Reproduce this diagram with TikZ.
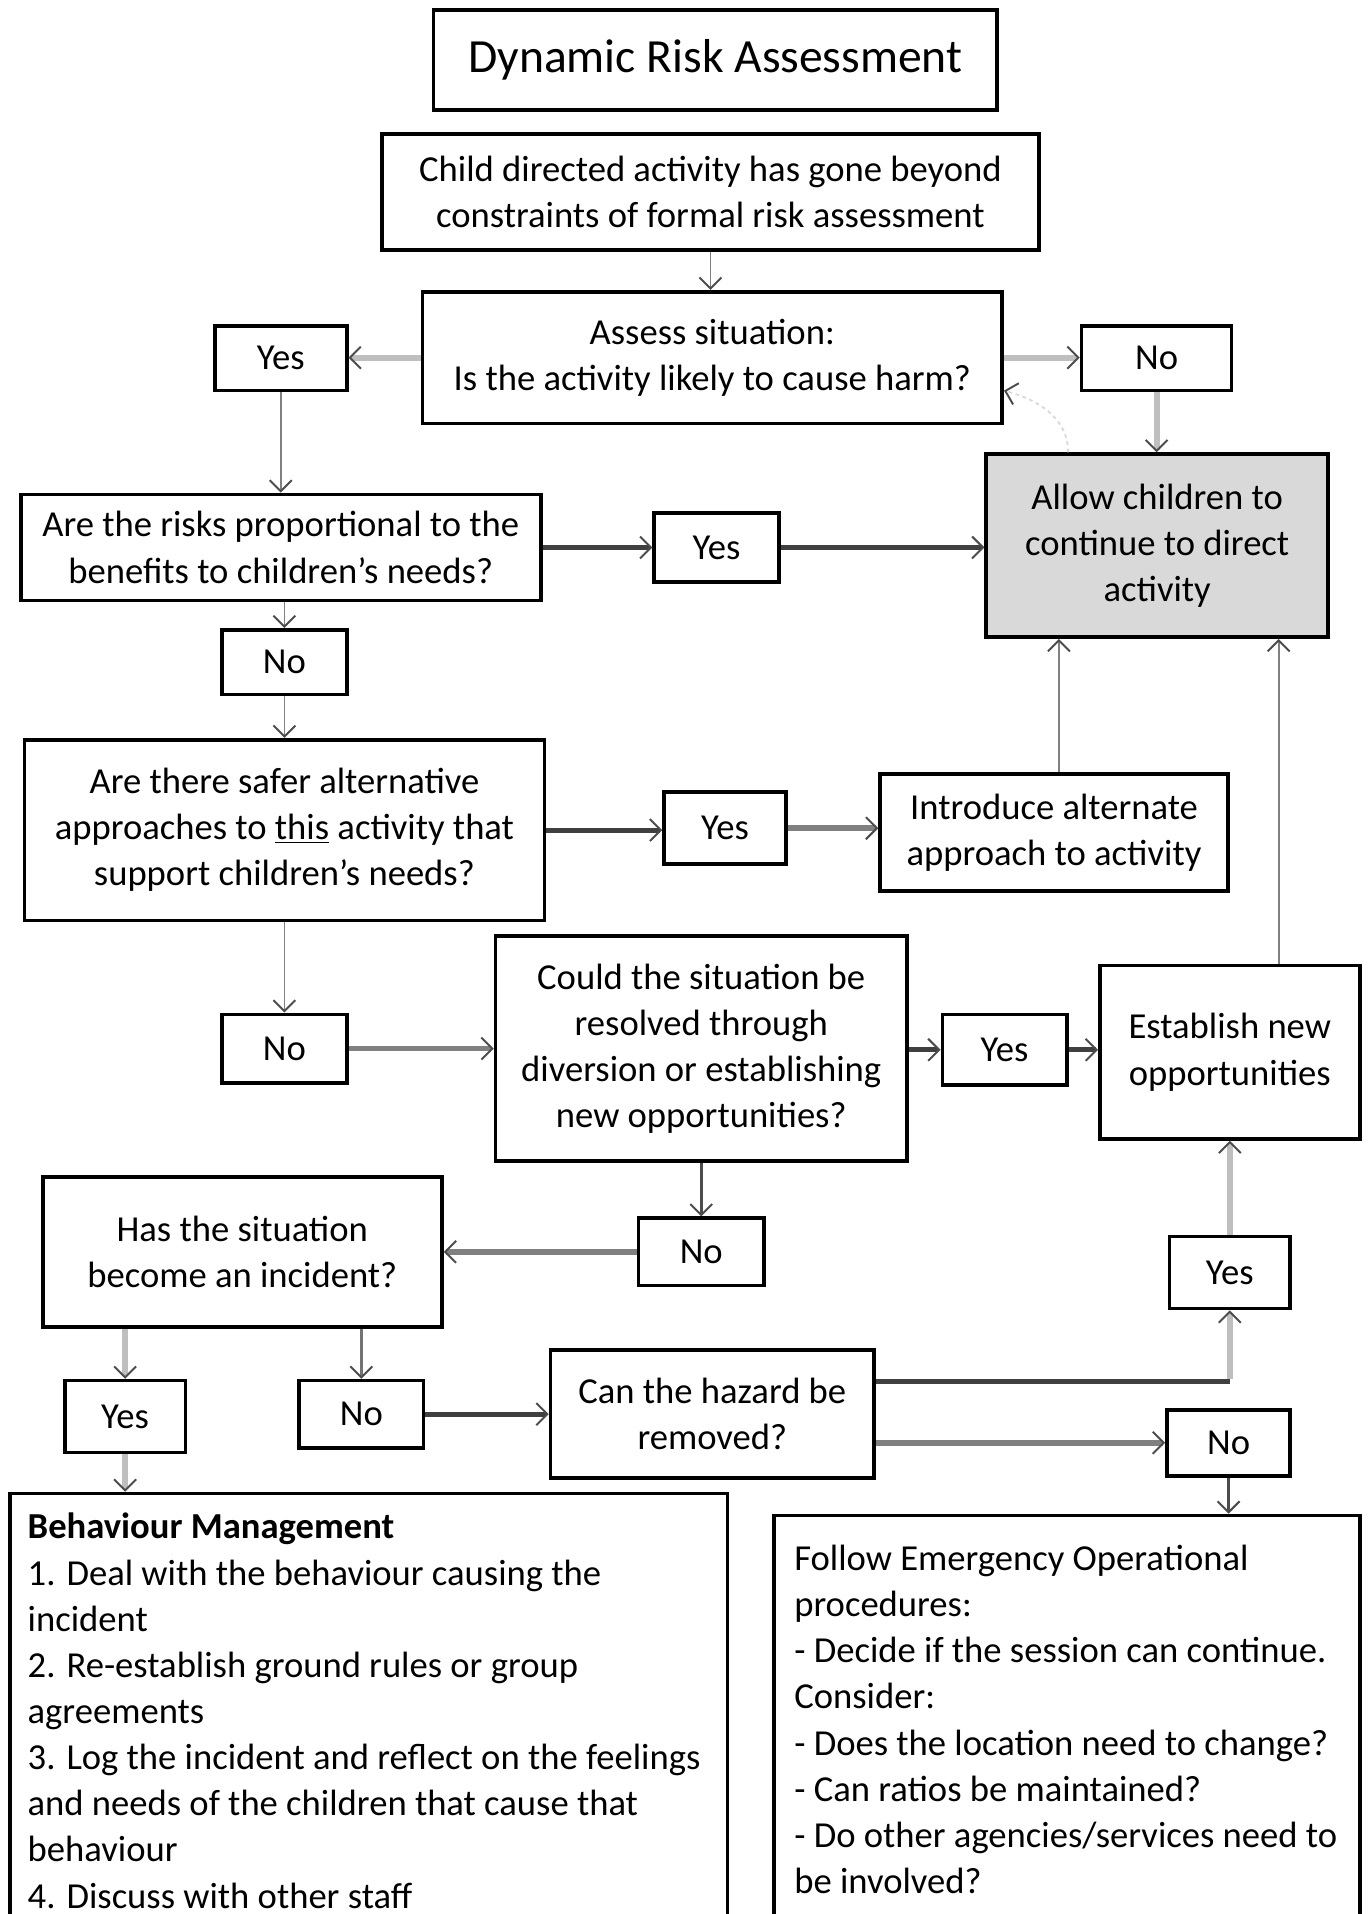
\documentclass[tikz,border=0pt]{standalone}
\usepackage{fontspec}
\setmainfont{Carlito}
\usetikzlibrary{arrows.meta,calc}
\definecolor{Fill}{RGB}{217, 217, 217}
\newcommand\mainsize{\fontsize{30}{37.8}\selectfont}
\newcommand\titlesize{\fontsize{39}{44}\selectfont}
\tikzset{
  box/.style={draw, line width=3pt, align=center, inner sep=0pt, font=\mainsize},
  tip/.style={-{Straight Barb[length=9pt,width=18pt,line width=1.6pt,color=black!70]}},
  thinline/.style={tip, draw=black!50, line width=1.5pt},
  midline/.style={tip, draw=black!70, line width=2.5pt},
  darkline/.style={tip, draw=black!75, line width=4pt},
  greyline/.style={tip, draw=black!50, line width=4.5pt},
  paleline/.style={tip, draw=black!25, line width=5pt},
  listtext/.style={anchor=north west, align=left, inner sep=0pt, font=\mainsize}
}

\begin{document}
\begin{tikzpicture}[x=1pt, y=-1pt]
    %%Background
    \useasboundingbox (0,0) rectangle (1121,1568);

    %% Top of the chart
    \node[box, font=\titlesize, minimum width=462, minimum height=82] (title) at (586,49) {Dynamic Risk Assessment};
    \node[box, minimum width=538, minimum height=95] (child) at (582,157.5)
        {Child directed activity has gone beyond\\constraints of formal risk assessment};
    \node[box, minimum width=475, minimum height=108] (assess) at (583.5,293)
        {Assess situation:\\Is the activity likely to cause harm?};
    \node[box, minimum width=108, minimum height=53] (yesA) at (230,293.5) {Yes};
    \node[box, minimum width=123, minimum height=53] (noA) at (947.5,293.5) {No};
    \node[box, fill=Fill, minimum width=280, minimum height=150] (allow) at (948,447)
        {Allow children to\\continue to direct\\activity};

    %% Proportional risks
    \node[box, minimum width=426, minimum height=87] (risks) at (230,448.5)
        {Are the risks proportional to the\\benefits to children's needs?};
    \node[box, minimum width=102, minimum height=57] (yesB) at (587,448.5) {Yes};
    \node[box, minimum width=102, minimum height=53] (noB) at (233,542.5) {No};

    %% Safer approaches
    \node[box, minimum width=426, minimum height=148] (safer) at (233,680)
        {Are there safer alternative\\approaches to \underline{this} activity that\\support children's needs?};
    \node[box, minimum width=100, minimum height=59] (yesC) at (594,678.5) {Yes};
    \node[box, minimum width=285, minimum height=96] (intro) at (863.5,682)
        {Introduce alternate\\approach to activity};
    \node[box, minimum width=102, minimum height=56] (noC) at (233,859) {No};

    %% Diversion
    \node[box, minimum width=337, minimum height=184] (could) at (574.5,859)
        {Could the situation be\\resolved through\\diversion or establishing\\new opportunities?};
    \node[box, minimum width=102, minimum height=58] (yesD) at (823,860) {Yes};
    \node[box, minimum width=213, minimum height=142] (establish) at (1007.5,862)
        {Establish new\\opportunities};

    %% Incident
    \node[box, minimum width=327, minimum height=123] (has) at (198.5,1025.5)
        {Has the situation\\become an incident?};
    \node[box, minimum width=103, minimum height=55] (noD) at (574.5,1025.5) {No};
    \node[box, minimum width=99, minimum height=59] (yesE) at (1007.5,1042.5) {Yes};
    \node[box, minimum width=99, minimum height=59] (yesF) at (102.5,1160.5) {Yes};
    \node[box, minimum width=102, minimum height=55] (noE) at (296,1158.5) {No};
    \node[box, minimum width=265, minimum height=105] (hazard) at (583.5,1158.5)
        {Can the hazard be\\removed?};
    \node[box, minimum width=101, minimum height=54] (noF) at (1006.5,1182) {No};

    %% Bottom boxes
    \node[box, minimum width=588, minimum height=420, anchor=north] (behave) at (302,1222) {};
    \node[listtext] (behavetext) at ([xshift=16pt, yshift=-17.5pt]behave.north west)
        {\textbf{Behaviour Management}\\
         1. Deal with the behaviour causing the\\
         incident\\
         2. Re-establish ground rules or group\\
         agreements\\
         3. Log the incident and reflect on the feelings\\
         and needs of the children that cause that\\
         behaviour\\
         4. Discuss with other staff};
    \node[box, minimum width=480, minimum height=400, anchor=north] (follow) at (874,1240) {};
    \node[listtext] (followtext) at ([xshift=18pt, yshift=-25.5pt]follow.north west)
        {Follow Emergency Operational\\
         procedures:\\
         - Decide if the session can continue.\\
         Consider:\\
         - Does the location need to change?\\
         - Can ratios be maintained?\\
         - Do other agencies/services need to\\
         be involved?};

    %% Connectors
    \draw[thinline] (child.south) -- (child.south |- assess.north);
    \draw[paleline] (assess.west) -- (assess.west -| yesA.east);
    \draw[paleline] (assess.east) -- (assess.east -| noA.west);
    \draw[thinline] (yesA.south) -- (yesA.south |- risks.north);
    \draw[paleline] (noA.south) -- (noA.south |- allow.north);
    \draw[tip, draw=black!15, line width=1.5pt, dashed]
        ([xshift=-73pt]allow.north) to[out=90, in=-15] ([yshift=-27pt]assess.east);

    \draw[darkline] (risks.east) -- (risks.east -| yesB.west);
    \draw[darkline] (yesB.east) -- (yesB.east -| allow.west);
    \draw[thinline] (risks.south -| noB.north) -- (noB.north);
    \draw[thinline] (noB.south) -- (noB.south |- safer.north);

    \draw[darkline] (safer.east) -- (safer.east -| yesC.west);
    \draw[greyline] (yesC.east) -- (yesC.east -| intro.west);
    \draw[thinline] ([xshift=4pt]intro.north) -- ([xshift=4pt]intro.north |- allow.south);
    \draw[thinline] ([xshift=40pt]establish.north) -- ([xshift=40pt]establish.north |- allow.south);
    \draw[thinline] (safer.south -| noC.north) -- (noC.north);

    \draw[greyline] (noC.east) -- (noC.east -| could.west);
    \draw[darkline] (could.east |- yesD.west) -- (yesD.west);
    \draw[darkline] (yesD.east) -- (yesD.east -| establish.west);
    \draw[midline] (could.south -| noD.north) -- (noD.north);
    \draw[greyline] (noD.west) -- (noD.west -| has.east);

    \draw[paleline] (has.south -| yesF.north) -- (yesF.north);
    \draw[midline, draw=black!55] (has.south -| noE.north) -- (noE.north);
    \draw[paleline] (yesF.south) -- (yesF.south |- behave.north);
    \draw[darkline] (noE.east) -- (noE.east -| hazard.west);
    \draw[darkline, -] ([yshift=27pt]hazard.east) -- ([yshift=27pt]hazard.east -| yesE.south);
    \draw[paleline] ([yshift=29pt]hazard.east -| yesE.south) -- (yesE.south);
    \draw[paleline] (yesE.north) -- (yesE.north |- establish.south);
    \draw[greyline] (hazard.east |- noF.west) -- (noF.west);
    \draw[midline] (noF.south) -- (noF.south |- follow.north);

\end{tikzpicture}
\end{document}
